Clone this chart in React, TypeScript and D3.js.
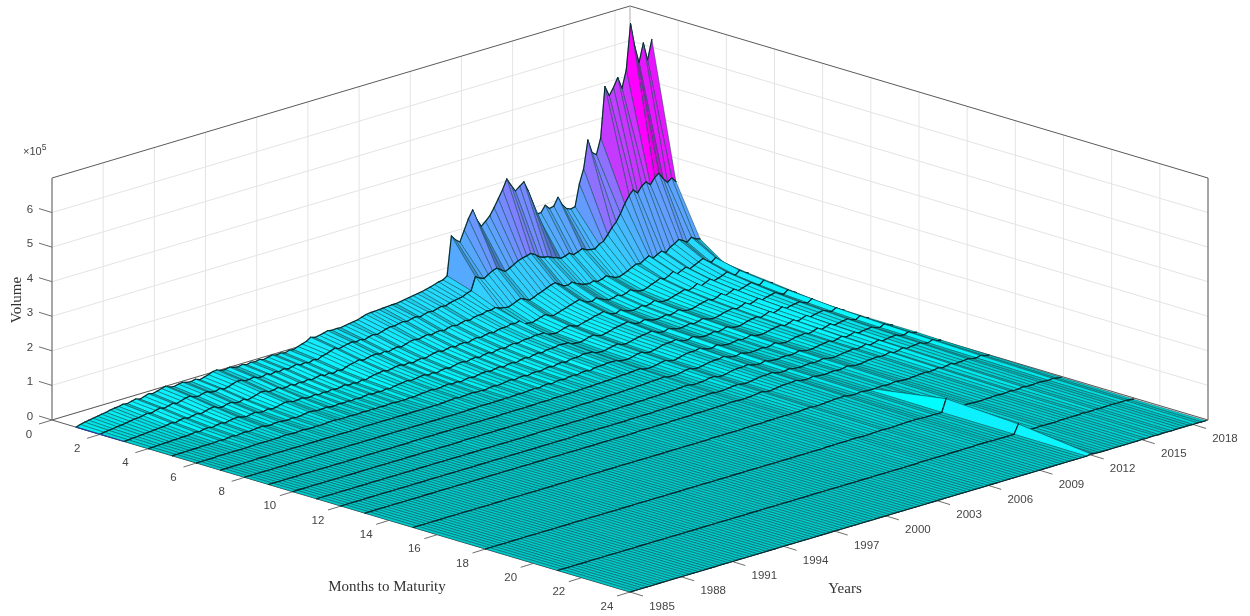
import React, { useEffect, useRef } from 'react';
import * as d3 from 'd3';

// volume in thousands of contracts, one list per maturity, one value per quarter 1985-2018
const m1 = [0,4,7,9,11,13,15,17,20,22,
23,26,24,27,30,26,30,34,31,34,
38,41,35,33,36,38,34,33,36,31,
34,38,43,44,39,38,41,37,35,38,
34,37,35,38,34,37,40,36,38,35,
39,37,42,46,50,58,54,56,59,62,
60,61,60,62,64,66,68,72,76,78,
78,79,80,81,82,82,84,86,88,90,
92,94,97,100,104,108,110,118,230,215,
205,235,265,287,255,232,243,255,275,297,
320,347,325,305,315,324,295,260,220,220,
238,225,228,250,225,210,205,208,270,310,
390,350,340,385,530,500,520,545,510,560,
690,620,570,623,570,626];
const m2 = [0,2,4,5,7,8,10,12,14,15,
17,20,17,21,24,20,23,27,23,27,
31,33,27,25,29,31,26,25,29,24,
27,31,35,35,30,30,33,28,27,31,
26,30,27,31,27,30,33,28,31,27,
32,29,35,38,42,47,42,45,48,50,
47,50,46,50,53,50,54,58,61,60,
63,65,62,66,68,64,68,71,69,73,
76,74,79,82,84,86,92,96,133,125,
120,128,135,139,130,122,128,135,142,146,
149,152,145,135,130,128,122,118,112,115,
120,112,116,122,115,112,110,120,125,140,
157,170,190,215,235,248,235,252,260,248,
265,274,255,240,250,235];
const m3 = [0,1,2,3,4,5,6,7,8,9,
10,13,10,14,16,12,15,18,14,18,
21,23,17,15,19,21,16,15,19,14,
17,21,25,24,19,20,23,17,17,21,
16,20,17,21,17,20,23,18,21,17,
22,19,24,28,30,34,29,32,35,36,
33,36,32,36,38,35,39,43,45,42,
45,48,44,47,49,45,50,52,49,53,
56,53,58,60,60,65,64,68,62,60,
58,62,68,72,66,60,64,70,74,80,
85,88,80,72,70,75,68,62,58,56,
60,55,58,64,58,52,50,54,60,66,
72,70,78,85,75,82,88,80,92,98,
107,100,92,102,94,90];
const m4 = [0,0,1,1,2,2,3,3,4,4,
5,7,5,8,9,6,9,11,8,11,
13,14,10,8,11,13,9,8,11,8,
10,13,16,15,11,12,14,10,10,13,
9,12,10,13,10,12,15,11,13,10,
14,12,16,19,20,23,19,21,24,25,
21,24,20,24,26,23,27,30,32,28,
31,34,30,34,35,31,36,38,35,39,
41,38,43,44,44,48,46,50,38,36,
34,38,42,46,40,36,40,44,48,52,
56,60,52,46,44,50,44,38,34,36,
40,35,38,44,38,33,32,36,42,46,
52,46,52,60,50,56,62,54,60,66,
72,62,54,64,52,42];
const m5 = [0,0,0,1,1,1,1,2,2,2,
2,4,2,4,5,3,5,6,4,6,
7,8,5,4,6,7,5,4,6,4,
5,7,9,8,6,6,8,5,5,7,
5,7,5,7,5,7,9,6,8,6,
9,7,10,12,13,15,12,14,16,17,
13,16,12,16,18,15,18,21,22,19,
22,24,20,24,26,22,26,28,25,29,
31,28,32,33,33,36,35,36,28,26,
24,28,32,35,30,26,30,33,36,40,
42,46,38,32,30,36,30,26,24,26,
30,25,28,34,27,24,24,28,32,35,
40,34,38,46,36,42,48,40,44,48,
54,44,38,48,38,33];
const m6 = [0,0,0,0,0,1,1,1,1,1,
1,1,1,2,2,2,2,2,2,2,
3,4,3,2,3,4,2,2,3,2,
3,4,5,4,3,3,4,3,3,4,
3,4,3,4,3,4,5,3,4,3,
5,4,6,7,8,9,7,8,10,11,
8,10,7,10,12,9,12,14,15,12,
15,17,13,17,18,15,19,21,18,22,
24,21,25,26,26,29,28,28,21,20,
19,22,26,28,23,20,23,26,30,32,
34,37,30,25,24,29,24,20,19,21,
24,20,23,28,22,19,19,22,26,29,
32,27,31,38,29,34,40,32,36,40,
44,36,30,40,30,26];
const m7 = [0,0,0,0,0,0,0,0,1,1,
1,1,1,1,1,1,1,1,1,1,
1,1,1,1,1,1,1,1,1,1,
1,1,1,2,2,2,2,2,2,2,
2,2,2,2,2,2,2,2,2,2,
3,2,3,4,5,6,4,5,6,7,
5,6,4,7,8,6,8,10,11,8,
11,12,9,12,13,11,14,16,13,17,
18,15,19,20,20,23,22,22,16,15,
15,18,21,23,18,16,19,22,25,27,
28,31,24,20,19,24,19,16,15,17,
20,16,19,23,18,15,15,18,22,24,
27,22,26,32,24,28,34,26,30,33,
36,29,24,33,24,18];
const m8 = [0,0,0,0,0,0,0,0,0,0,
0,0,0,0,0,1,1,1,1,1,
1,1,1,1,1,1,1,1,1,1,
1,1,1,1,1,1,1,1,1,1,
1,1,1,1,1,1,1,1,1,1,
1,1,2,2,2,3,3,3,3,3,
3,4,3,4,5,4,5,6,7,5,
8,9,6,9,10,8,11,12,10,13,
14,11,15,16,16,18,18,18,13,12,
12,15,18,20,15,13,16,19,22,24,
24,27,20,17,16,21,16,13,12,14,
17,13,16,20,15,12,12,15,19,21,
23,18,22,28,20,24,30,22,26,28,
30,24,20,28,18,10];
const m9 = [0,0,0,0,0,0,0,0,0,0,
0,0,0,0,0,0,0,0,0,0,
0,0,0,0,0,0,0,0,0,0,
0,0,0,0,1,1,1,1,1,1,
1,1,1,1,1,1,1,1,1,1,
1,1,1,1,1,2,2,2,2,2,
2,2,2,3,3,3,3,4,4,4,
5,5,5,6,6,7,7,8,8,9,
9,10,11,12,12,13,14,15,10,9,
10,12,15,17,12,10,13,16,19,20,
20,23,17,14,13,18,13,11,10,12,
14,11,13,17,12,10,10,13,16,18,
20,15,19,24,17,21,26,18,22,24,
26,20,16,23,14,8];
const m10 = [0,0,0,0,0,0,0,0,0,0,
0,0,0,0,0,0,0,0,0,0,
0,0,0,0,0,0,0,0,0,0,
0,0,0,0,0,0,0,0,0,0,
1,1,1,1,1,1,1,1,1,1,
1,1,1,1,1,1,1,1,2,2,
2,2,2,2,2,2,3,3,3,3,
3,4,4,4,5,5,5,6,6,7,
7,8,8,9,10,10,11,12,8,8,
8,10,13,14,10,9,11,14,16,17,
17,20,14,12,11,15,11,9,9,10,
12,9,11,15,10,8,8,11,14,15,
17,13,16,21,14,18,22,15,18,20,
22,16,13,20,11,7];
const m11 = [0,0,0,0,0,0,0,0,0,0,
0,0,0,0,0,0,0,0,0,0,
0,0,0,0,0,0,0,0,0,0,
0,0,0,0,0,0,0,0,0,0,
0,0,0,0,0,0,0,0,0,0,
0,0,1,1,1,1,1,1,1,1,
1,1,1,1,2,2,2,2,2,2,
2,3,3,3,3,4,4,4,5,5,
5,6,6,7,7,8,9,9,6,6,
7,8,11,12,8,7,9,12,14,15,
15,17,12,10,9,13,9,8,7,9,
10,8,9,13,9,7,7,9,12,13,
15,11,14,18,12,15,19,13,16,17,
19,14,11,17,10,7];
const m12 = [0,0,0,0,0,0,0,0,0,0,
0,0,0,0,0,0,0,0,0,0,
0,0,0,0,0,0,0,0,0,0,
0,0,0,0,0,0,0,0,0,0,
0,0,0,0,0,0,0,0,0,0,
0,0,0,0,0,1,1,1,1,1,
1,1,1,1,1,1,1,1,2,2,
2,2,2,2,3,3,3,3,4,4,
4,4,5,5,6,6,7,7,5,5,
6,7,9,10,7,6,8,10,12,13,
13,15,10,8,8,11,8,7,6,8,
9,7,8,11,8,6,6,8,10,11,
13,10,12,16,10,13,17,11,14,15,
17,12,10,15,9,7];
const m13 = [0,0,0,0,0,0,0,0,0,0,
0,0,0,0,0,0,0,0,0,0,
0,0,0,0,0,0,0,0,0,0,
0,0,0,0,0,0,0,0,0,0,
0,0,0,0,0,0,0,0,0,0,
0,0,0,0,0,0,0,0,0,0,
0,0,0,0,1,1,1,1,1,1,
1,1,2,2,2,2,2,3,3,3,
3,3,4,4,4,5,5,5,4,4,
5,6,8,9,6,5,7,9,10,11,
11,13,9,7,7,10,7,6,5,7,
8,6,7,10,7,5,5,7,9,10,
11,9,10,14,9,11,15,10,12,13,
15,10,8,13,7,5];
const m15 = [0,0,0,0,0,0,0,0,0,0,
0,0,0,0,0,0,0,0,0,0,
0,0,0,0,0,0,0,0,0,0,
0,0,0,0,0,0,0,0,0,0,
0,0,0,0,0,0,0,0,0,0,
0,0,0,0,0,0,0,0,0,0,
0,0,0,0,0,0,0,0,0,0,
1,1,1,1,1,1,1,1,2,2,
2,2,2,3,3,3,3,4,3,3,
3,4,5,6,4,4,5,6,7,8,
8,9,6,5,5,7,5,4,4,5,
6,4,5,7,5,4,4,5,6,7,
8,6,7,10,6,8,11,7,8,9,
10,7,6,9,5,3];
const m18 = [0,0,0,0,0,0,0,0,0,0,
0,0,0,0,0,0,0,0,0,0,
0,0,0,0,0,0,0,0,0,0,
0,0,0,0,0,0,0,0,0,0,
0,0,0,0,0,0,0,0,0,0,
0,0,0,0,0,0,0,0,0,0,
0,0,0,0,0,0,0,0,0,0,
0,0,0,0,0,0,0,0,0,0,
1,1,1,1,1,1,2,2,1,1,
1,2,2,3,2,2,2,3,3,4,
4,4,3,2,2,3,2,2,38,4,
3,2,3,4,3,2,2,3,3,4,
4,3,4,5,3,4,6,4,4,5,
5,4,3,5,2,1];
const m21 = [0,0,0,0,0,0,0,0,0,0,
0,0,0,0,0,0,0,0,0,0,
0,0,0,0,0,0,0,0,0,0,
0,0,0,0,0,0,0,0,0,0,
0,0,0,0,0,0,0,0,0,0,
0,0,0,0,0,0,0,0,0,0,
0,0,0,0,0,0,0,0,0,0,
0,0,0,0,0,0,0,0,0,0,
0,0,0,0,0,1,1,1,1,1,
1,1,1,1,1,1,1,1,2,2,
2,2,1,1,1,1,1,1,27,3,
2,1,1,2,1,1,1,1,2,2,
2,2,2,3,2,2,3,2,2,3,
3,2,2,3,1,0];
const m24 = [0,0,0,0,0,0,0,0,0,0,
0,0,0,0,0,0,0,0,0,0,
0,0,0,0,0,0,0,0,0,0,
0,0,0,0,0,0,0,0,0,0,
0,0,0,0,0,0,0,0,0,0,
0,0,0,0,0,0,0,0,0,0,
0,0,0,0,0,0,0,0,0,0,
0,0,0,0,0,0,0,0,0,0,
0,0,0,0,0,0,0,0,0,0,
0,0,0,0,0,0,0,0,0,0,
0,0,0,0,0,0,0,0,3,1,
0,0,0,0,0,0,0,0,0,0,
1,0,1,1,0,1,1,0,1,1,
1,1,0,1,0,0];

const maturities = [1,2,3,4,5,6,7,8,9,10,11,12,13,15,18,21,24];
const columns = [m1,m2,m3,m4,m5,m6,m7,m8,m9,m10,m11,m12,m13,m15,m18,m21,m24];

const monthTicks = [0,2,4,6,8,10,12,14,16,18,20,22,24];
const yearTicks = [1985,1988,1991,1994,1997,2000,2003,2006,2009,2012,2015,2018];
const volumeTicks = [0,1,2,3,4,5,6];

// plot box as it lands on the screen, year axis runs a bit past the last tick
const originX = 52, originY = 420;
const lastYear = 2018.88;
const mx = d3.scaleLinear([0, 24], [0, 578]);
const my = d3.scaleLinear([0, 24], [0, 172]);
const yx = d3.scaleLinear([1985, lastYear], [0, 578]);
const yy = d3.scaleLinear([1985, lastYear], [0, -172]);
const zy = d3.scaleLinear([0, 7], [0, -242]);
const rowYear = d3.scaleLinear([0, 135], [1985, 2018.75]);
const colour = d3.scaleLinear<string>([0, 6.9], ['#00ffff', '#ff00ff']);

const project = (m: number, year: number, z: number): [number, number] => [
	originX + mx(m) + yx(year),
	originY + my(m) + yy(year) + zy(z)
];

const line = d3.line();

// world units for the shading, az 45 and el 17
const WORLD = 817, ZWORLD = 253;
const view = [0.675, -0.675, 0.2976];

const shade = (i: number, j: number) => {
	const a = columns[j][i] / 100, b = columns[j + 1][i] / 100;
	const c = columns[j][i + 1] / 100, d = columns[j + 1][i + 1] / 100;
	const dm = (maturities[j + 1] - maturities[j]) / 24 * WORLD;
	const dy = WORLD / 135;
	const zx = ((b + d - a - c) / 2) / 7 * ZWORLD / dm;
	const zu = ((c + d - a - b) / 2) / 7 * ZWORLD / dy;
	const len = Math.hypot(zx, zu, 1);
	const dot = (-zx * view[0] - zu * view[1] + view[2]) / len;
	const diff = dot - view[2];
	const k = diff > 0 ? 0.8 + 1.15 * diff : 0.8 + 0.5 * diff;
	return Math.max(0.7, Math.min(1, k));
};

const Chart = () => {
	const ref = useRef<SVGSVGElement>(null);

	useEffect(() => {
		const svg = d3.select(ref.current);
		svg.selectAll('*').remove();

		svg.append('defs').append('filter').attr('id', 'soft')
			.attr('x', 0).attr('y', 0).attr('width', 1).attr('height', 1)
			.attr('filterUnits', 'objectBoundingBox')
			.append('feGaussianBlur').attr('stdDeviation', 0.4);

		const root = svg.append('g').attr('filter', 'url(#soft)');
		root.append('rect').attr('width', 1250).attr('height', 616).attr('fill', '#fff');

		// back walls
		const grid = root.append('g').attr('stroke', '#e4e4e4').attr('fill', 'none');
		const seg = (a: [number, number], b: [number, number]) => line([a, b]);
		volumeTicks.forEach((v) => {
			grid.append('path').attr('d', seg(project(0, 1985, v), project(0, lastYear, v)));
			grid.append('path').attr('d', seg(project(0, lastYear, v), project(24, lastYear, v)));
		});
		yearTicks.forEach((y) => {
			grid.append('path').attr('d', seg(project(0, y, 0), project(0, y, 7)));
		});
		monthTicks.forEach((m) => {
			grid.append('path').attr('d', seg(project(m, lastYear, 0), project(m, lastYear, 7)));
		});

		const box = root.append('g').attr('stroke', '#5a5a5a').attr('fill', 'none');
		box.append('path').attr('d', line([project(0, 1985, 7), project(0, lastYear, 7), project(24, lastYear, 7)]));
		box.append('path').attr('d', line([project(0, 1985, 0), project(0, lastYear, 0), project(24, lastYear, 0)]));
		box.append('path').attr('d', seg(project(0, 1985, 0), project(0, 1985, 7))).attr('stroke', '#8c8c8c').attr('stroke-width', 1.5);
		box.append('path').attr('d', seg(project(24, lastYear, 0), project(24, lastYear, 7)));
		box.append('path').attr('d', seg(project(0, lastYear, 0), project(0, lastYear, 7))).attr('stroke', '#bbb');
		box.append('path').attr('d', line([project(0, 1985, 0), project(24, 1985, 0), project(24, lastYear, 0)]));

		// ticks and labels
		const tick = root.append('g').attr('stroke', '#6e6e6e').attr('fill', 'none');
		const labels = root.append('g')
			.attr('font-family', '"Liberation Sans", Arial, sans-serif')
			.attr('font-size', 11.5)
			.attr('fill', '#454545')
			.attr('text-anchor', 'middle');
		const addLabel = (x: number, y: number, s: string | number) =>
			labels.append('text').attr('x', x).attr('y', y).attr('dy', '0.35em').text(s);

		volumeTicks.forEach((v) => {
			const [x, y] = project(0, 1985, v);
			tick.append('path').attr('d', seg([x, y], [x - 13, y - 4]));
			addLabel(x - 22, y - 4, v);
		});
		monthTicks.forEach((m) => {
			const [x, y] = project(m, 1985, 0);
			tick.append('path').attr('d', seg([x, y], [x - 13, y + 4]));
			addLabel(x - 23, y + 13.5, m);
		});
		yearTicks.forEach((yr) => {
			const [x, y] = project(24, yr, 0);
			tick.append('path').attr('d', seg([x, y], [x + 13, y + 4]));
			addLabel(x + 32, y + 13.5, yr);
		});

		const exp = labels.append('text').attr('x', 23).attr('y', 155).attr('text-anchor', 'start').attr('font-size', 11);
		exp.append('tspan').text('×10');
		exp.append('tspan').attr('font-size', 8.5).attr('dy', -5).text('5');

		const titles = root.append('g')
			.attr('font-family', '"Liberation Serif", "Times New Roman", serif')
			.attr('font-size', 15)
			.attr('fill', '#333')
			.attr('text-anchor', 'middle');
		titles.append('text').attr('transform', 'translate(21,300) rotate(-90)').text('Volume');
		titles.append('text').attr('x', 387).attr('y', 591).text('Months to Maturity');
		titles.append('text').attr('x', 845).attr('y', 593).text('Years');

		// surface, back to front
		const faces: { i: number; j: number }[] = [];
		for (let i = 134; i >= 0; i--) {
			for (let j = 0; j < maturities.length - 1; j++) faces.push({ i, j });
		}
		const pt = (i: number, j: number) => project(maturities[j], rowYear(i), columns[j][i] / 100);

		const surface = root.append('g').attr('stroke-linejoin', 'round').attr('stroke-linecap', 'round');
		const face = surface.selectAll('g').data(faces).join('g');
		face.append('path')
			.attr('d', ({ i, j }) => line([pt(i, j), pt(i, j + 1), pt(i + 1, j + 1), pt(i + 1, j)]) + 'Z')
			.attr('fill', ({ i, j }) => {
				const top = Math.max(columns[j][i], columns[j][i + 1]) / 100;
				const c = d3.rgb(colour(top));
				const k = shade(i, j);
				return d3.rgb(c.r * k, c.g * k, c.b * k).formatHex();
			})
			.attr('stroke', '#05464a')
			.attr('stroke-width', 0.5);
		face.append('path')
			.attr('d', ({ i, j }) => line([pt(i, j), pt(i + 1, j)]) + ' ' + line([pt(i, j + 1), pt(i + 1, j + 1)]))
			.attr('fill', 'none')
			.attr('stroke', '#062a2e')
			.attr('stroke-width', 1.1);

		// dark first row along the month edge
		root.append('path')
			.attr('d', line([pt(0, 0), pt(0, 1), pt(0, 2)]))
			.attr('fill', 'none')
			.attr('stroke', '#2b3f8f')
			.attr('stroke-width', 1.2);
	}, []);

	return <svg ref={ref} width={1250} height={616} style={{ position: 'absolute', left: 0, top: 0, display: 'block' }} />;
};

export default function App() {
	return <Chart />;
}
